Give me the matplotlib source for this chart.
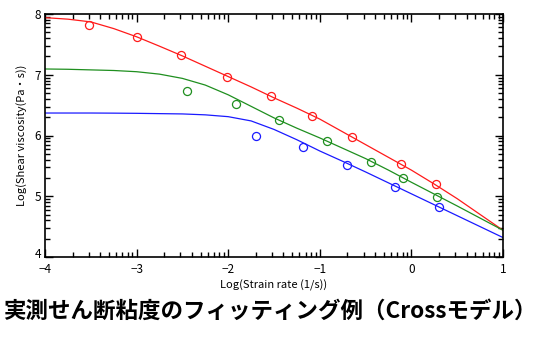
import numpy as np
import matplotlib
matplotlib.use("Agg")
import matplotlib.pyplot as plt
import matplotlib.transforms as mtransforms
from matplotlib.ticker import FixedLocator, FixedFormatter

plt.rcParams['font.family'] = ['Noto Sans CJK JP', 'DejaVu Sans']

# measured points (log strain rate, log viscosity)
red_x = [-3.52, -3.00, -2.52, -2.01, -1.53, -1.09, -0.645, -0.117, 0.265]
red_y = [7.82, 7.62, 7.32, 6.97, 6.645, 6.32, 5.97, 5.53, 5.20]
green_x = [-2.447, -1.92, -1.442, -0.918, -0.441, -0.088, 0.283]
green_y = [6.74, 6.52, 6.25, 5.91, 5.56, 5.295, 4.995]
blue_x = [-1.693, -1.18, -0.703, -0.176, 0.301]
blue_y = [6.00, 5.81, 5.51, 5.16, 4.83]

# fitted curves
fit_x = [-4, -3.75, -3.5, -3.25, -3, -2.75, -2.5, -2.25, -2, -1.75, -1.5, -1.25, -1, -0.75, -0.5, -0.25, 0, 0.25, 0.5, 0.75, 1]
red_fit = [7.94, 7.915, 7.87, 7.76, 7.625, 7.47, 7.31, 7.14, 6.97, 6.80, 6.62, 6.45, 6.27, 6.06, 5.85, 5.64, 5.43, 5.20, 4.96, 4.70, 4.44]
green_fit = [7.095, 7.09, 7.08, 7.07, 7.05, 7.01, 6.94, 6.83, 6.67, 6.48, 6.29, 6.12, 5.96, 5.79, 5.62, 5.43, 5.23, 5.035, 4.84, 4.64, 4.44]
blue_fit = [6.37, 6.37, 6.37, 6.368, 6.365, 6.36, 6.355, 6.34, 6.31, 6.24, 6.10, 5.93, 5.745, 5.575, 5.40, 5.22, 5.04, 4.86, 4.68, 4.50, 4.32]

x_ticks = [-4, -3, -2, -1, 0, 1]
x_ticklabels = ["−4", "−3", "−2", "−1", "0", "1"]
y_ticks = [4, 5, 6, 7, 8]
y_ticklabels = ["4", "5", "6", "7", "8"]

xlabel = "Log(Strain rate (1/s))"
ylabel = "Log(Shear viscosity(Pa・s))"
title = "実測せん断粘度のフィッティング例（Crossモデル）"

colors = {"red": "#ff1a1a", "green": "#1f8f1f", "blue": "#1a1aff"}

fig = plt.figure(figsize=(5.39, 3.55), dpi=100)
ax = fig.add_axes([45/539, 98/355, 458/539, 243/355])

for fx, fy, px, py, c in [
    (fit_x, red_fit, red_x, red_y, colors["red"]),
    (fit_x, green_fit, green_x, green_y, colors["green"]),
    (fit_x, blue_fit, blue_x, blue_y, colors["blue"]),
]:
    ax.plot(fx, fy, color=c, lw=0.9)
    ax.plot(px, py, 'o', mfc='none', mec=c, ms=5.8, mew=0.9)

ax.set_xlim(-4, 1)
ax.set_ylim(4, 8)

def minor_positions(lo, hi):
    pos = []
    for n in range(lo, hi):
        for k in range(2, 10):
            pos.append(n + np.log10(k))
    return pos

ax.xaxis.set_major_locator(FixedLocator(x_ticks))
ax.xaxis.set_major_formatter(FixedFormatter(x_ticklabels))
ax.yaxis.set_major_locator(FixedLocator(y_ticks))
ax.yaxis.set_major_formatter(FixedFormatter(y_ticklabels))
ax.xaxis.set_minor_locator(FixedLocator(minor_positions(-4, 1)))
ax.yaxis.set_minor_locator(FixedLocator(minor_positions(4, 8)))

ax.tick_params(which='both', direction='in', top=True, right=True, width=1.0, labelsize=8.5)
ax.tick_params(axis='x', which='both', pad=4)
ax.tick_params(axis='y', which='both', pad=3)
ax.tick_params(which='major', length=6)
ax.tick_params(which='minor', length=3.5)
for s in ax.spines.values():
    s.set_linewidth(1.2)

fig.canvas.draw()
# lift the bottom "4" label slightly, as in the reference
for lab in ax.get_yticklabels():
    if lab.get_text() == "4":
        lab.set_transform(lab.get_transform() + mtransforms.ScaledTranslation(0, 4/100, fig.dpi_scale_trans))

ax.set_xlabel(xlabel, fontsize=8, labelpad=3)
ax.set_ylabel(ylabel, fontsize=8, labelpad=5)

fig.text(0.5, 1 - 311/355, title, ha='center', va='center', fontsize=16.2, fontweight='bold')

fig.savefig("out.png", dpi=100)
